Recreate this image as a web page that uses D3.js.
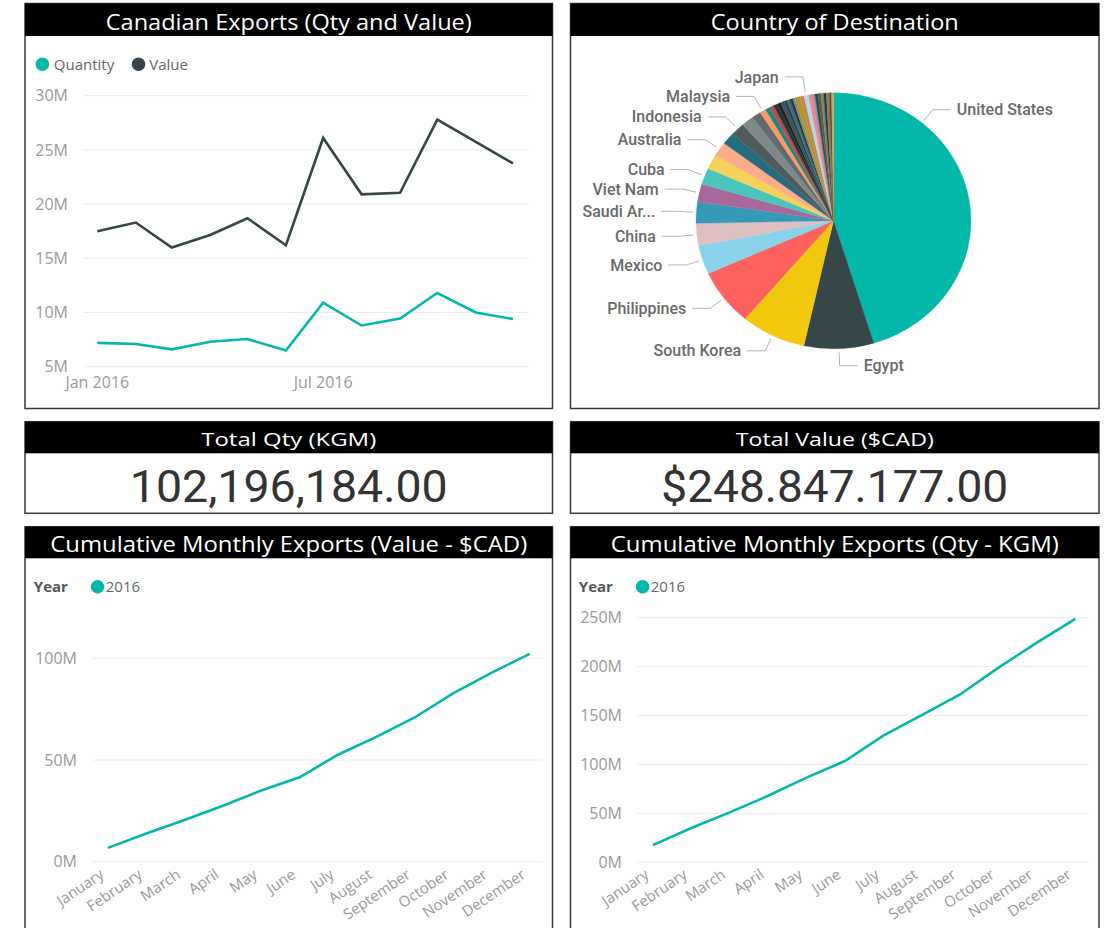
<!DOCTYPE html>
<html><head><meta charset="utf-8">
<script src="https://cdn.jsdelivr.net/npm/d3@7"></script>
<style>body{margin:0;background:#fff}svg{display:block}</style>
</head><body>
<svg id="c" width="1107" height="928"></svg>
<script>
// ---------------- DATA ----------------
const months = ["January","February","March","April","May","June","July","August","September","October","November","December"];
const monthlyQuantity = [7.2, 7.1, 6.6, 7.3, 7.55, 6.5, 10.9, 8.8, 9.45, 11.8, 10.0, 9.4];      // millions
const monthlyValue    = [17.5, 18.3, 16.0, 17.15, 18.7, 16.2, 26.1, 20.9, 21.05, 27.8, 25.75, 23.75]; // millions
const topTicks = [5, 10, 15, 20, 25, 30];
const topXTicks = ["Jan 2016", "Jul 2016"];

const cumValueChart = [6.8, 13.9, 20.5, 27.5, 35.0, 41.5, 52.6, 61.4, 70.9, 82.8, 92.8, 102.2]; // "Value - $CAD" panel
const cumValueTicks = [0, 50, 100];
const cumQtyChart = [17.5, 35.0, 51.0, 68.0, 86.5, 103.5, 129.5, 150.5, 171.5, 199.0, 224.5, 248.8]; // "Qty - KGM" panel
const cumQtyTicks = [0, 50, 100, 150, 200, 250];

const countries = ["United States","Egypt","South Korea","Philippines","Mexico","China","Saudi Arabia","Viet Nam","Cuba",
  "Country 10","Australia","Country 12","Indonesia","Country 14","Country 15","Malaysia","Country 17","Country 18",
  "Country 19","Country 20","Country 21","Country 22","Country 23","Country 24","Country 25","Country 26","Country 27",
  "Japan","Country 29","Country 30","Country 31","Country 32","Country 33","Country 34","Country 35","Country 36","Country 37"];
const countryQty = [46.27, 8.37, 7.84, 7.27, 3.75, 2.84, 2.75, 2.30, 2.13,
  1.87, 1.85, 1.59, 1.65, 1.50, 1.08, 0.74, 0.57, 0.51,
  0.51, 0.40, 0.40, 0.40, 0.37, 0.34, 0.28, 0.62, 0.48,
  0.54, 0.40, 0.37, 0.37, 0.34, 0.34, 0.31, 0.37, 0.26, 0.23];
const countryColors = ["#01B8AA","#374649","#F2C80F","#FD625E","#8AD4EB","#DFBFBF","#3599B8","#A66999","#4AC5BB",
  "#F4D25A","#FDAB89","#236C82","#4F5B5D","#7F898A","#5F6B6D","#FE9666","#168980","#BB4A4A",
  "#293537","#1C2325","#475052","#1B4D5C","#476A75","#303637","#6A8F9B","#B59525","#C8844E",
  "#A4DDEE","#FB8281","#B687AC","#0F5C55","#7E4B36","#7A8B5C","#0D3B66","#A0783C","#544848","#D9A441"];
const labelledCountries = ["United States","Egypt","South Korea","Philippines","Mexico","China","Saudi Arabia","Viet Nam","Cuba","Australia","Indonesia","Malaysia","Japan"];
const labelText = {"Saudi Arabia":"Saudi Ar..."};

const kpiTitles = ["Total Qty (KGM)", "Total Value ($CAD)"];
const kpiValues = ["102,196,184.00", "$248.847.177.00"];

// ---------------- STYLE ----------------
const TEAL = "#01B8AA", DARK = "#374649";
const UI = "'Open Sans', 'Noto Sans', sans-serif";
const LBL = "Roboto, 'Noto Sans', sans-serif";
const svg = d3.select("#c");

function panel(x, y, w, h, title, titleW, titleBase, barH) {
  svg.append("rect").attr("x", x).attr("y", y).attr("width", w).attr("height", h)
    .attr("fill", "#fff").attr("stroke", "#3a3a3a").attr("stroke-width", 1.5);
  svg.append("rect").attr("x", x).attr("y", y).attr("width", w).attr("height", barH).attr("fill", "#000");
  svg.append("text").attr("x", x + w / 2).attr("y", titleBase).attr("text-anchor", "middle")
    .attr("fill", "#fff").style("font-family", UI).style("font-size", "22px")
    .attr("textLength", titleW).attr("lengthAdjust", "spacingAndGlyphs").text(title);
}

// panels
panel(25, 3.5, 527.5, 405, "Canadian Exports (Qty and Value)", 366, 29.5, 32.5);
panel(570.5, 3.5, 528.5, 405, "Country of Destination", 248, 29.5, 32.5);
panel(25, 526.7, 527.5, 420, "Cumulative Monthly Exports (Value - $CAD)", 477, 552, 31.6);
panel(570.5, 526.7, 528.5, 420, "Cumulative Monthly Exports (Qty - KGM)", 448, 552, 31.6);

// KPI cards
[[25, 527.5, 175, 318], [570.5, 528.5, 198, 347]].forEach((k, i) => {
  const [x, w, tw, vw] = k;
  svg.append("rect").attr("x", x).attr("y", 421.7).attr("width", w).attr("height", 91.6)
    .attr("fill", "#fff").attr("stroke", "#3a3a3a").attr("stroke-width", 1.5);
  svg.append("rect").attr("x", x).attr("y", 421.7).attr("width", w).attr("height", 31.6).attr("fill", "#000");
  svg.append("text").attr("x", x + w / 2).attr("y", 445.7).attr("text-anchor", "middle").attr("fill", "#fff")
    .style("font-family", UI).style("font-size", "19px")
    .attr("textLength", tw).attr("lengthAdjust", "spacingAndGlyphs").text(kpiTitles[i]);
  svg.append("text").attr("x", x + w / 2).attr("y", 502).attr("text-anchor", "middle").attr("fill", "#333")
    .style("font-family", LBL).style("font-size", "45px")
    .attr("textLength", vw).attr("lengthAdjust", "spacingAndGlyphs").text(kpiValues[i]);
});

// ---------------- TOP-LEFT LINE CHART ----------------
(function () {
  const dates = months.map((m, i) => new Date(2016, i, 1));
  const x = d3.scaleTime().domain([dates[0], dates[11]]).range([97.3, 513]);
  const y = d3.scaleLinear().domain([5, 30]).range([366.7, 95.7]);
  const g = svg.append("g");
  g.selectAll("line.grid").data(topTicks).join("line")
    .attr("x1", 84).attr("x2", 528.6).attr("y1", d => y(d)).attr("y2", d => y(d))
    .attr("stroke", "#ececec").attr("stroke-width", 1);
  g.selectAll("text.yl").data(topTicks).join("text")
    .attr("x", 68).attr("y", d => y(d)).attr("dy", "0.35em").attr("text-anchor", "end")
    .attr("fill", "#9a9a9a").style("font-family", UI).style("font-size", "16px").text(d => d + "M");
  const xt = [dates[0], dates[6]];
  g.selectAll("text.xl").data(xt).join("text")
    .attr("x", d => x(d)).attr("y", 387.5).attr("text-anchor", "middle")
    .attr("fill", "#9a9a9a").style("font-family", UI).style("font-size", "16px")
    .text((d, i) => topXTicks[i]);
  const line = d3.line().x((d, i) => x(dates[i])).y(d => y(d));
  g.append("path").datum(monthlyValue).attr("d", line).attr("fill", "none").attr("stroke", DARK).attr("stroke-width", 2.6);
  g.append("path").datum(monthlyQuantity).attr("d", line).attr("fill", "none").attr("stroke", TEAL).attr("stroke-width", 2.6);
  // legend
  [["Quantity", TEAL, 42.4, 53.8], ["Value", DARK, 138.5, 149.3]].forEach(l => {
    g.append("circle").attr("cx", l[2]).attr("cy", 64.3).attr("r", 6.8).attr("fill", l[1]);
    g.append("text").attr("x", l[3]).attr("y", 64.3).attr("dy", "0.35em").attr("fill", "#666")
      .style("font-family", UI).style("font-size", "15px").text(l[0]);
  });
})();

// ---------------- CUMULATIVE CHARTS ----------------
function cumChart(values, ticks, xr, yr, yDom, gridX, labelRight, legendX) {
  const x = d3.scalePoint().domain(months).range(xr);
  const y = d3.scaleLinear().domain(yDom).range(yr);
  const g = svg.append("g");
  g.selectAll("line.grid").data(ticks).join("line")
    .attr("x1", gridX[0]).attr("x2", gridX[1]).attr("y1", d => y(d)).attr("y2", d => y(d))
    .attr("stroke", "#ececec").attr("stroke-width", 1);
  g.selectAll("text.yl").data(ticks).join("text")
    .attr("x", labelRight).attr("y", d => y(d)).attr("dy", "0.35em").attr("text-anchor", "end")
    .attr("fill", "#9a9a9a").style("font-family", UI).style("font-size", "16px").text(d => d + "M");
  g.selectAll("text.xl").data(months).join("text")
    .attr("transform", d => `translate(${x(d) - 3},${877}) rotate(-34)`).attr("text-anchor", "end")
    .attr("fill", "#9a9a9a").style("font-family", UI).style("font-size", "15px").text(d => d);
  g.append("path").datum(values)
    .attr("d", d3.line().x((d, i) => x(months[i])).y(d => y(d)))
    .attr("fill", "none").attr("stroke", TEAL).attr("stroke-width", 2.6);
  g.append("text").attr("x", legendX).attr("y", 586.7).attr("dy", "0.35em").attr("fill", "#555")
    .style("font-family", UI).style("font-size", "15px").style("font-weight", "bold").text("Year");
  g.append("circle").attr("cx", legendX + 63.8).attr("cy", 586.7).attr("r", 6.8).attr("fill", TEAL);
  g.append("text").attr("x", legendX + 72).attr("y", 586.7).attr("dy", "0.35em").attr("fill", "#666")
    .style("font-family", UI).style("font-size", "15px").text("2016");
}
cumChart(cumValueChart, cumValueTicks, [107.9, 529.7], [861.7, 658.3], [0, 100], [92.4, 542.4], 77, 33.8);
cumChart(cumQtyChart, cumQtyTicks, [652.9, 1075.3], [862.3, 617.7], [0, 250], [637.4, 1089], 622, 578.8);

// ---------------- PIE ----------------
(function () {
  const cx = 833.5, cy = 220.8, ry = 128, rx = 137.5;
  const data = countries.map((c, i) => ({ name: c, v: countryQty[i], color: countryColors[i] }));
  const arcs = d3.pie().sort(null).value(d => d.v)(data);
  const arc = d3.arc().innerRadius(0).outerRadius(ry);
  const g = svg.append("g").attr("transform", `translate(${cx},${cy}) scale(${rx / ry},1)`);
  g.selectAll("path").data(arcs).join("path").attr("d", arc).attr("fill", d => d.data.color)
    .attr("stroke", d => d.data.color).attr("stroke-width", 0.3);

  const leaderAngle = { "United States": 40 * Math.PI / 180 };
  const items = arcs.filter(a => labelledCountries.includes(a.data.name)).map(a => {
    const t = leaderAngle[a.data.name] ?? (a.startAngle + a.endAngle) / 2;
    const ux = Math.sin(t), uy = -Math.cos(t);
    const rimX = cx + rx * ux, rimY = cy + ry * uy;
    return { a, ux, uy, rimX, rimY, side: ux >= 0 ? 1 : -1, ly: rimY + 17 * uy };
  });
  // keep left-side labels at least 19px apart (push upward like the original layout)
  const left = items.filter(d => d.side < 0).sort((p, q) => q.ly - p.ly);
  for (let i = 1; i < left.length; i++) {
    if (left[i - 1].ly - left[i].ly < 19.5) left[i].ly = left[i - 1].ly - 19.5;
  }
  const lg = svg.append("g");
  items.forEach(d => {
    const s = [d.rimX + 3.5 * d.ux, d.rimY + 3.5 * d.uy];
    const e = [d.rimX + 17 * d.ux, d.ly];
    const h = [e[0] + d.side * 18, d.ly];
    lg.append("polyline").attr("points", [s, e, h].map(p => p.join(",")).join(" "))
      .attr("fill", "none").attr("stroke", "#b5b5b5").attr("stroke-width", 1);
    lg.append("text").attr("x", h[0] + d.side * 6).attr("y", h[1]).attr("dy", "0.35em")
      .attr("text-anchor", d.side > 0 ? "start" : "end").attr("fill", "#6a6a6a")
      .style("font-family", LBL).style("font-size", "16px").style("font-weight", "500")
      .text(labelText[d.a.data.name] || d.a.data.name);
  });
})();
</script>
</body></html>
